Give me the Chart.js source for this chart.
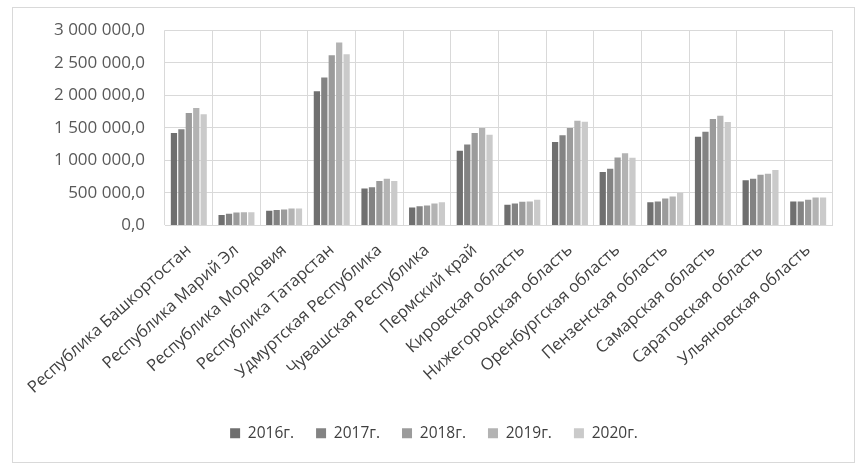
<!DOCTYPE html>
<html>
<head>
<meta charset="utf-8">
<script src="https://cdn.jsdelivr.net/npm/chart.js@4/dist/chart.umd.min.js"></script>
<style>
html,body{margin:0;padding:0;background:#fff;}
#wrap{position:relative;width:861px;height:469px;}
</style>
</head>
<body>
<div id="wrap"><canvas id="c" width="861" height="469"></canvas></div>
<script>
const categories = [
  "Республика Башкортостан","Республика Марий Эл","Республика Мордовия","Республика Татарстан",
  "Удмуртская Республика","Чувашская Республика","Пермский край","Кировская область",
  "Нижегородская область","Оренбургская область","Пензенская область","Самарская область",
  "Саратовская область","Ульяновская область"
];
const seriesNames = ["2016г.","2017г.","2018г.","2019г.","2020г."];
const v2016 = [1420000,162000,225000,2062000,569000,277000,1149000,318000,1282000,820000,359000,1364000,697000,369000];
const v2017 = [1477000,180000,240000,2272000,589000,297000,1246000,338000,1385000,872000,369000,1441000,718000,369000];
const v2018 = [1728000,200000,245000,2615000,682000,308000,1420000,364000,1497000,1046000,415000,1636000,779000,395000];
const v2019 = [1805000,205000,260000,2811000,718000,338000,1497000,369000,1610000,1108000,446000,1687000,795000,431000];
const v2020 = [1708000,205000,260000,2631000,682000,359000,1395000,395000,1595000,1041000,503000,1590000,851000,431000];
const yTicks = [0,500000,1000000,1500000,2000000,2500000,3000000];

const colors = ["#6f6f6f","#838383","#9b9b9b","#b3b3b3","#cacaca"];
const seriesValues = [v2016,v2017,v2018,v2019,v2020];

function fmt(v){
  const s = Math.round(v).toString().replace(/\B(?=(\d{3})+(?!\d))/g, "\u00a0");
  return s + ",0";
}

const frame = {
  id:'frame',
  beforeDraw(chart){
    const ctx = chart.ctx;
    ctx.save();
    ctx.fillStyle = '#fff';
    ctx.fillRect(0,0,chart.width,chart.height);
    ctx.strokeStyle = '#d9d9d9';
    ctx.lineWidth = 1;
    ctx.strokeRect(12.5,7.5,842,455);
    ctx.restore();
  }
};

new Chart(document.getElementById('c'), {
  type:'bar',
  data:{
    labels:categories,
    datasets: seriesNames.map((n,i)=>({
      label:n,
      data:seriesValues[i],
      backgroundColor:colors[i],
      borderWidth:0,
      categoryPercentage:0.78,
      barPercentage:0.84
    }))
  },
  options:{
    responsive:false,
    animation:false,
    devicePixelRatio:1,
    layout:{padding:{top:30,right:29,bottom:18,left:36}},
    plugins:{
      legend:{
        position:'bottom',
        labels:{
          boxWidth:10,boxHeight:10,padding:22,
          color:'#404040',
          font:{family:'Open Sans',size:15.5}
        }
      },
      tooltip:{enabled:false}
    },
    scales:{
      x:{
        grid:{color:'#d9d9d9',drawTicks:false,offset:true},
        border:{color:'#d9d9d9'},
        ticks:{
          maxRotation:42,minRotation:42,autoSkip:false,padding:15,
          color:'#404040',
          font:{family:'Open Sans',size:16.5}
        },
        afterFit(scale){ scale.height = 178; }
      },
      y:{
        min:0,max:3000000,
        afterBuildTicks(scale){ scale.ticks = yTicks.map(v=>({value:v})); },
        grid:{color:'#d9d9d9',drawTicks:false},
        border:{display:false},
        ticks:{
          padding:20,
          color:'#595959',
          font:{family:'Open Sans',size:17},
          callback:(v)=>fmt(v)
        },
        afterFit(scale){ scale.width = 129; }
      }
    }
  },
  plugins:[frame]
});
</script>
</body>
</html>
